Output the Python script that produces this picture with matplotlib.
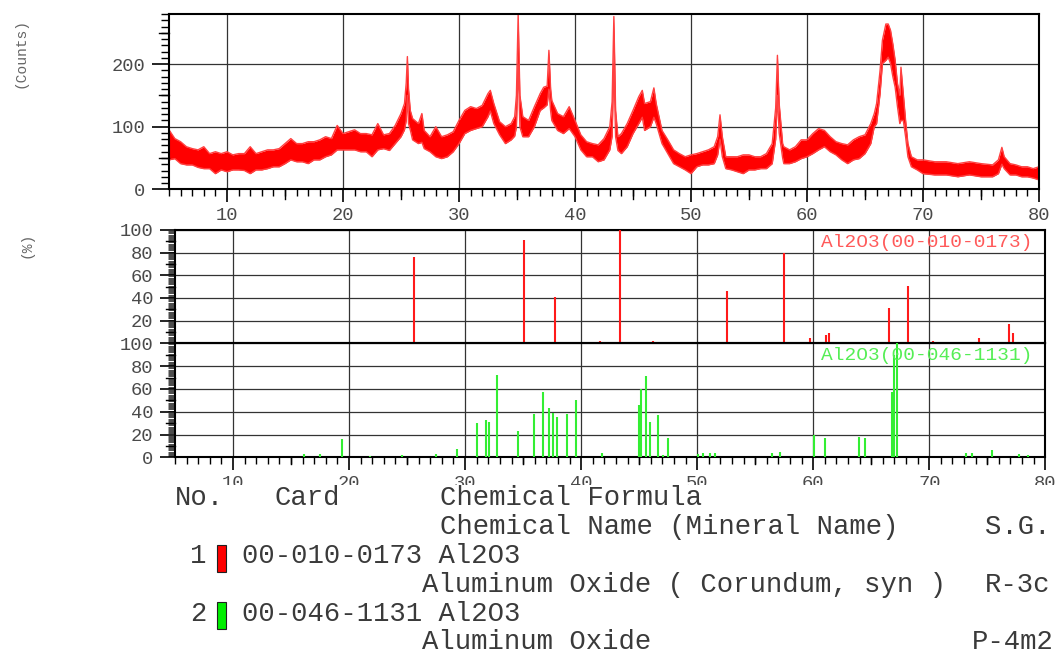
import matplotlib
matplotlib.use("Agg")
import matplotlib.pyplot as plt
from matplotlib.ticker import MultipleLocator
from matplotlib.lines import Line2D
from matplotlib.patches import Rectangle
import numpy as np

# measured pattern, read as upper / lower edge of the noisy trace
two_theta = [5.0, 5.5, 6.0, 6.5, 7.0, 7.5, 8.0, 8.5, 9.0, 9.5, 10.0, 10.5, 11.0, 11.5,
             12.0, 12.5, 13.0, 13.5, 14.0, 14.5, 15.0, 15.5, 16.0, 16.5, 17.0, 17.5,
             18.0, 18.5, 19.0, 19.5, 20.0, 20.5, 21.0, 21.5, 22.0, 22.5, 23.0, 23.5,
             24.0, 24.5, 25.0, 25.3, 25.45, 25.55, 25.65, 25.8, 26.0, 26.5, 26.8, 27.0,
             27.5, 28.0, 28.5, 29.0, 29.5, 30.0, 30.5, 31.0, 31.5, 32.0, 32.5, 32.7,
             33.0, 33.5, 34.0, 34.5, 34.8, 34.95, 35.1, 35.25, 35.5, 36.0, 36.5, 37.0,
             37.3, 37.6, 37.75, 37.9, 38.0, 38.5, 39.0, 39.5, 40.0, 40.5, 41.0, 41.5,
             42.0, 42.5, 43.0, 43.2, 43.35, 43.5, 43.7, 44.0, 44.5, 45.0, 45.5, 45.8,
             46.0, 46.5, 46.8, 47.0, 47.5, 48.0, 48.5, 49.0, 49.5, 50.0, 50.5, 51.0,
             51.5, 52.0, 52.3, 52.5, 52.7, 53.0, 53.5, 54.0, 54.5, 55.0, 55.5, 56.0,
             56.5, 57.0, 57.3, 57.45, 57.6, 57.9, 58.0, 58.5, 59.0, 59.5, 60.0, 60.5,
             61.0, 61.5, 62.0, 62.5, 63.0, 63.5, 64.0, 64.5, 65.0, 65.5, 65.8, 66.0,
             66.3, 66.5, 66.8, 67.0, 67.2, 67.4, 67.6, 67.8, 68.0, 68.1, 68.3, 68.5,
             68.7, 69.0, 69.5, 70.0, 71.0, 72.0, 73.0, 74.0, 75.0, 76.0, 76.5, 76.8,
             77.0, 77.5, 78.0, 78.5, 79.0, 79.5, 80.0]
counts_upper = [95, 81, 76, 68, 65, 63, 68, 57, 60, 57, 60, 55, 57, 57,
                68, 57, 60, 63, 63, 65, 73, 81, 73, 73, 76, 76,
                79, 84, 81, 102, 89, 92, 95, 89, 89, 87, 105, 87,
                89, 102, 121, 137, 170, 212, 160, 126, 113, 105, 121, 94,
                84, 100, 84, 87, 92, 110, 126, 132, 129, 134, 153, 158,
                137, 108, 100, 105, 116, 150, 280, 150, 116, 110, 132, 153,
                163, 165, 222, 160, 142, 121, 116, 132, 110, 87, 76, 73,
                71, 81, 100, 140, 276, 126, 84, 89, 105, 126, 148, 158,
                137, 140, 162, 137, 94, 79, 63, 57, 52, 55, 57, 60,
                63, 68, 84, 119, 84, 52, 52, 52, 55, 55, 52, 52,
                57, 73, 130, 214, 137, 73, 68, 63, 68, 79, 79, 89,
                97, 94, 84, 76, 73, 71, 79, 84, 87, 105, 121, 137,
                190, 238, 264, 264, 254, 232, 206, 169, 150, 195, 153, 110,
                73, 52, 47, 47, 44, 44, 41, 44, 41, 39, 47, 67,
                52, 41, 39, 36, 36, 33, 36]
counts_lower = [47, 49, 41, 39, 39, 35, 33, 33, 25, 31, 28, 31, 31, 30,
                25, 31, 31, 33, 36, 36, 41, 47, 44, 44, 41, 47,
                47, 52, 55, 63, 63, 63, 63, 60, 60, 52, 63, 65,
                62, 73, 84, 95, 110, 150, 105, 95, 79, 73, 75, 65,
                60, 52, 49, 52, 60, 73, 89, 94, 97, 100, 116, 125,
                105, 87, 73, 79, 85, 100, 200, 100, 84, 84, 100, 126,
                130, 135, 160, 125, 110, 94, 89, 97, 84, 63, 52, 52,
                44, 47, 63, 85, 200, 84, 62, 57, 68, 89, 105, 115,
                94, 100, 115, 105, 73, 57, 41, 36, 31, 25, 36, 39,
                39, 41, 55, 80, 52, 33, 31, 28, 25, 31, 31, 33,
                33, 41, 80, 150, 90, 50, 41, 41, 44, 49, 52, 57,
                63, 68, 60, 55, 47, 41, 47, 49, 57, 73, 100, 105,
                153, 201, 206, 211, 201, 180, 163, 132, 105, 110, 110, 84,
                52, 36, 31, 25, 23, 23, 20, 23, 20, 20, 25, 40,
                33, 23, 23, 20, 20, 18, 15]

# reference card 00-010-0173 (corundum)
card1_2theta = [25.57, 35.10, 37.75, 41.65, 43.32, 46.17, 52.54, 57.47, 59.72,
                61.13, 61.33, 66.50, 68.15, 70.28, 74.29, 76.85, 77.25]
card1_int = [76, 91, 41, 2, 100, 2, 46, 80, 5, 7, 9, 31, 51, 2, 5, 17, 9]

# reference card 00-046-1131
card2_2theta = [16.13, 17.50, 19.42, 21.78, 24.53, 27.49, 29.27, 31.00, 31.80, 32.03,
                32.75, 34.59, 35.91, 36.74, 37.23, 37.55, 37.89, 38.78, 39.53, 41.80,
                44.96, 45.13, 45.56, 45.96, 46.60, 47.08, 47.51, 50.04, 50.47, 51.10,
                51.51, 56.42, 57.14, 60.07, 61.04, 63.92, 64.43, 66.79, 66.96, 67.19,
                73.14, 73.68, 75.41, 77.76, 78.48]
card2_int = [3, 3, 16, 1, 2, 3, 7, 30, 33, 31,
             72, 23, 38, 57, 43, 39, 35, 38, 50, 4,
             46, 60, 71, 31, 37, 2, 17, 3, 4, 4,
             4, 4, 5, 20, 17, 18, 17, 57, 90, 100,
             4, 4, 6, 3, 2]

MONO = "Liberation Mono"
TICK_COLOR = "#4a4a4a"
W, H = 1059, 652

fig = plt.figure(figsize=(W / 100, H / 100), dpi=100)


def px_box(left, top, right, bottom):
    return [left / W, 1 - bottom / H, (right - left) / W, (bottom - top) / H]


def extra_ticks(ax, axis, positions, length_px, lw=1.0):
    # ticks of intermediate length (every 5 deg / every 10 %)
    bb = ax.get_position()
    if axis == "x":
        frac = length_px / (bb.height * H)
        for p in positions:
            ax.add_line(Line2D([p, p], [0, -frac], transform=ax.get_xaxis_transform(),
                               color="black", lw=lw, clip_on=False))
    else:
        frac = length_px / (bb.width * W)
        for p in positions:
            ax.add_line(Line2D([0, -frac], [p, p], transform=ax.get_yaxis_transform(),
                               color="black", lw=lw, clip_on=False))


def style_axes(ax):
    for s in ax.spines.values():
        s.set_linewidth(1.5)
        s.set_color("black")
    ax.grid(which="major", color="#333333", lw=0.9)
    ax.set_axisbelow(True)
    for lab in ax.get_xticklabels() + ax.get_yticklabels():
        lab.set_fontfamily(MONO)
        lab.set_fontsize(13.5)
        lab.set_color(TICK_COLOR)


# measured pattern
ax_top = fig.add_axes(px_box(169, 14, 1039, 189.3))
ax_top.fill_between(two_theta, counts_lower, counts_upper, color="#ff0000", lw=0)
ax_top.plot(two_theta, counts_upper, color="#ff4040", lw=1.0)
ax_top.plot(two_theta, counts_lower, color="#ff4040", lw=1.0)
ax_top.set_xlim(5, 80)
ax_top.set_ylim(0, 280)
ax_top.xaxis.set_major_locator(MultipleLocator(10))
ax_top.xaxis.set_minor_locator(MultipleLocator(1))
ax_top.yaxis.set_major_locator(MultipleLocator(100))
ax_top.yaxis.set_minor_locator(MultipleLocator(10))
ax_top.tick_params(axis="x", which="major", direction="out", length=9.5, width=1.2, pad=3.5)
ax_top.tick_params(axis="x", which="minor", direction="out", length=5, width=1.0)
ax_top.tick_params(axis="y", which="major", direction="out", length=12, width=1.2, pad=5)
ax_top.tick_params(axis="y", which="minor", direction="out", length=5.5, width=1.0)
style_axes(ax_top)
extra_ticks(ax_top, "x", np.arange(15, 80, 10), 9.5)
extra_ticks(ax_top, "y", [50, 150, 250], 10)

# stick patterns of the two cards
ax_c1 = fig.add_axes(px_box(175, 230, 1045.3, 343.3))
ax_c2 = fig.add_axes(px_box(175, 343.3, 1045.3, 457.3))

ax_c1.vlines(card1_2theta, 0, card1_int, color="#ff1a1a", lw=1.5, zorder=3)
ax_c2.vlines(card2_2theta, 0, card2_int, color="#33ee33", lw=1.5, zorder=3)

for ax in (ax_c1, ax_c2):
    ax.set_xlim(5, 80)
    ax.set_ylim(0, 100)
    ax.xaxis.set_major_locator(MultipleLocator(10))
    ax.xaxis.set_minor_locator(MultipleLocator(1))
    ax.yaxis.set_minor_locator(MultipleLocator(1))
    ax.tick_params(axis="y", which="major", direction="out", length=11, width=1.2, pad=4.5)
    ax.tick_params(axis="y", which="minor", direction="out", length=5, width=0.5)

ax_c1.set_yticks([20, 40, 60, 80, 100])
ax_c2.set_yticks([0, 20, 40, 60, 80, 100])
ax_c1.tick_params(axis="x", which="both", length=0, labelbottom=False)
ax_c2.tick_params(axis="x", which="major", direction="out", length=9.5, width=1.2, pad=3.5)
ax_c2.tick_params(axis="x", which="minor", direction="out", length=5, width=1.0)
for ax in (ax_c1, ax_c2):
    style_axes(ax)
    extra_ticks(ax, "y", [10, 30, 50, 70, 90], 9)
extra_ticks(ax_c2, "x", np.arange(15, 80, 10), 7)

ax_c1.text(78.9, 89.4, "Al2O3(00-010-0173)", ha="right", va="center",
           fontsize=14, family=MONO, color="#ff5a5a", zorder=4)
ax_c2.text(78.9, 88.9, "Al2O3(00-046-1131)", ha="right", va="center",
           fontsize=14, family=MONO, color="#55ee55", zorder=4)

fig.text(20 / W, 1 - 53 / H, "(Counts)", rotation=90, ha="center", va="center",
         fontsize=10.5, family=MONO, color="#666666")
fig.text(27 / W, 1 - 245 / H, "(%)", rotation=90, ha="center", va="center",
         fontsize=10.5, family=MONO, color="#666666")

# card list below the plots; its white panel hides the lower half of the 2theta labels
fig.patches.append(Rectangle((0, 0), 1, 1 - 485 / H, transform=fig.transFigure,
                             facecolor="white", edgecolor="none", zorder=1))
rows = [
    (175, 505, "No."), (275, 505, "Card"), (440, 505, "Chemical Formula"),
    (440, 534, "Chemical Name (Mineral Name)"), (985, 534, "S.G."),
    (190, 563, "1"), (242, 563, "00-010-0173 Al2O3"),
    (422, 592, "Aluminum Oxide ( Corundum, syn )"), (985, 592, "R-3c"),
    (190, 621, "2"), (242, 621, "00-046-1131 Al2O3"),
    (422, 649, "Aluminum Oxide"), (972, 649, "P-4m2"),
]
for x, y, s in rows:
    fig.text(x / W, 1 - y / H, s, ha="left", va="baseline", fontsize=19.6,
             family=MONO, color="#3a3a3a", zorder=3)

for top, color in ((545, "#ff0000"), (602, "#00ee00")):
    fig.patches.append(Rectangle((217 / W, 1 - (top + 27) / H), 9 / W, 27 / H,
                                 transform=fig.transFigure, facecolor=color,
                                 edgecolor="#202020", lw=0.8, zorder=2))

fig.savefig("out.png", dpi=100)
